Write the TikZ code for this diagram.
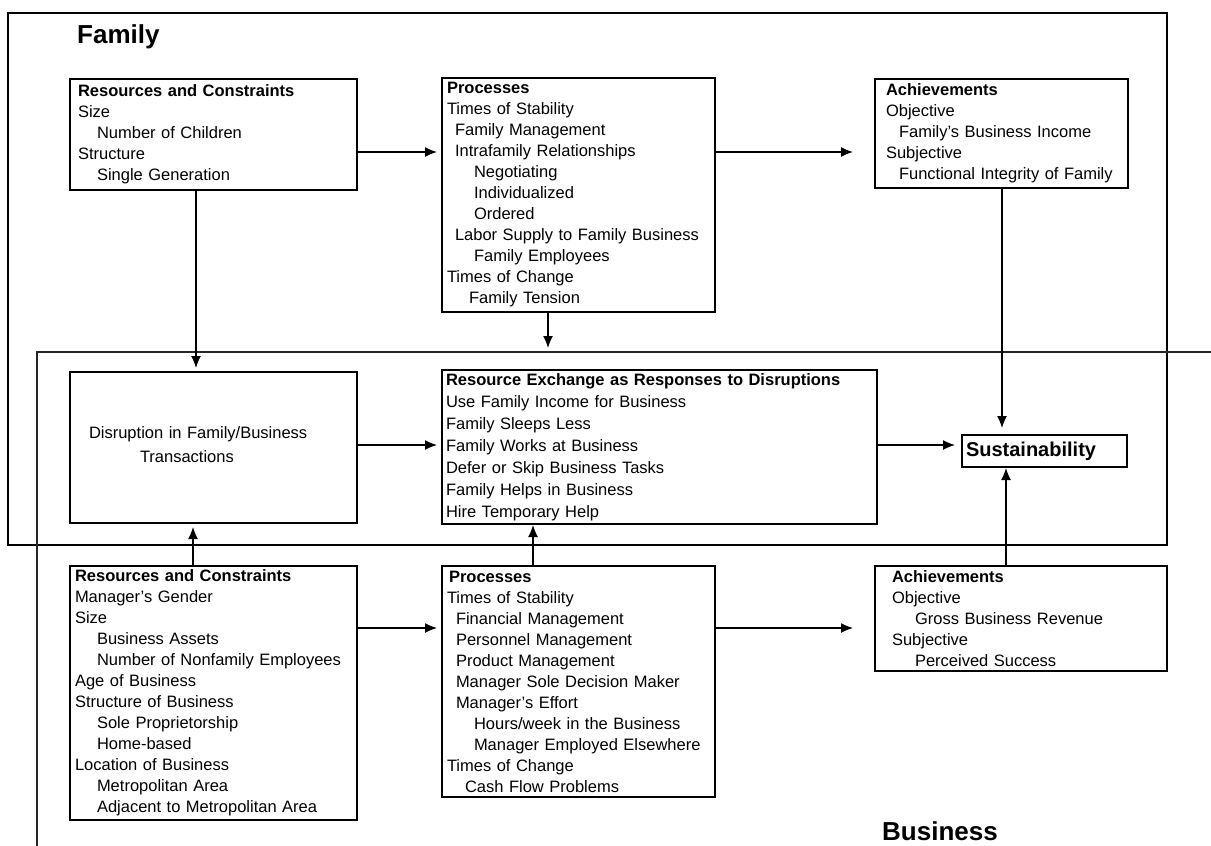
\documentclass[tikz,border=0pt]{standalone}
\usepackage{fontspec}
\setmainfont{Liberation Sans}
\usetikzlibrary{arrows.meta}
\tikzset{
 box/.style={draw, line width=1.3pt, rectangle, anchor=north west, align=left,
   inner ysep=0pt, outer sep=0pt, font=\fontsize{16.5}{21}\selectfont},
 arr/.style={line width=1.3pt, -{Latex[length=12pt,width=10pt]}},
 frameline/.style={line width=1.4pt},
 grouptitle/.style={font=\bfseries\fontsize{26}{30}\selectfont, anchor=base west, inner sep=0pt}
}
\newcommand{\ind}[1]{\hspace*{#1pt}}
\begin{document}
\begin{tikzpicture}[x=1pt,y=-1pt]
\useasboundingbox (0,0) rectangle (1211,846);
% frames
\draw[frameline] (8,13) rectangle (1167,545);
\draw[frameline, black!85] (37,846) -- (37,352) -- (1211,352);
\node[grouptitle] (famlabel) at (77,43) {Family};
\node[grouptitle] (buslabel) at (882,840) {Business};
% family boxes
\node[box, inner xsep=8pt, text width=271pt, minimum height=111pt] (famrc) at (70,79)
 {\textbf{Resources and Constraints}\\ Size\\ \ind{19}Number of Children\\ Structure\\ \ind{19}Single Generation};
\node[box, inner xsep=5pt, text width=263pt, minimum height=234pt] (famproc) at (442,78)
 {\textbf{Processes}\\ Times of Stability\\ \ind{8}Family Management\\ \ind{8}Intrafamily Relationships\\
  \ind{27}Negotiating\\ \ind{27}Individualized\\ \ind{27}Ordered\\ \ind{8}Labor Supply to Family Business\\
  \ind{27}Family Employees\\ Times of Change\\ \ind{22}Family Tension};
\node[box, inner xsep=11pt, text width=231pt, minimum height=109pt] (famach) at (875,79)
 {\textbf{Achievements}\\ Objective\\ \ind{13}Family's Business Income\\ Subjective\\ \ind{13}Functional Integrity of Family};
% middle
\node[box, inner xsep=19pt, text width=249pt, minimum height=151pt, font=\fontsize{16.5}{24}\selectfont] (disr) at (70,372)
 {Disruption in Family/Business\\ \ind{51}Transactions\\[-25pt]\strut};
\node[box, inner xsep=4pt, text width=427pt, minimum height=154pt, font=\fontsize{16.5}{22}\selectfont] (rex) at (442,370)
 {\textbf{Resource Exchange as Responses to Disruptions}\\ Use Family Income for Business\\ Family Sleeps Less\\
  Family Works at Business\\ Defer or Skip Business Tasks\\ Family Helps in Business\\ Hire Temporary Help};
\node[box, inner xsep=4pt, text width=157pt, minimum height=32pt, font=\bfseries\fontsize{20}{24}\selectfont] (sust) at (962,435)
 {Sustainability};
% business boxes
\node[box, inner xsep=5pt, text width=277pt, minimum height=254pt] (busrc) at (70,566)
 {\textbf{Resources and Constraints}\\ Manager's Gender\\ Size\\ \ind{22}Business Assets\\ \ind{22}Number of Nonfamily Employees\\
  Age of Business\\ Structure of Business\\ \ind{22}Sole Proprietorship\\ \ind{22}Home-based\\ Location of Business\\
  \ind{22}Metropolitan Area\\ \ind{22}Adjacent to Metropolitan Area};
\node[box, inner xsep=5pt, text width=263pt, minimum height=231pt] (busproc) at (442,566)
 {\ind{2}\textbf{Processes}\\ Times of Stability\\ \ind{9}Financial Management\\ \ind{9}Personnel Management\\
  \ind{9}Product Management\\ \ind{9}Manager Sole Decision Maker\\ \ind{9}Manager's Effort\\
  \ind{27}Hours/week in the Business\\ \ind{27}Manager Employed Elsewhere\\ Times of Change\\ \ind{18}Cash Flow Problems};
\node[box, inner xsep=17pt, text width=258pt, minimum height=105pt] (busach) at (875,566)
 {\textbf{Achievements}\\ Objective\\ \ind{23}Gross Business Revenue\\ Subjective\\ \ind{23}Perceived Success};
% helper coordinates
\coordinate (ya) at (0,152);
\coordinate (yb) at (0,445);
\coordinate (yc) at (0,628);
\coordinate (xa) at (196,0);
\coordinate (xb) at (1002,0);
\coordinate (xc) at (193,0);
\coordinate (xd) at (533,0);
\coordinate (xe) at (1006,0);
\coordinate (fpend) at (548,348);
% connectors
\draw[arr, shorten >=5pt] (famrc.east |- ya) -- (famproc.west |- ya);
\draw[arr, shorten >=22pt] (famproc.east |- ya) -- (famach.west |- ya);
\draw[arr, shorten >=4pt] (famrc.south -| xa) -- (disr.north -| xa);
\draw[arr] (famproc.south -| fpend) -- (fpend);
\draw[arr, shorten >=7pt] (famach.south -| xb) -- (sust.north -| xb);
\draw[arr, shorten >=5pt] (disr.east |- yb) -- (rex.west |- yb);
\draw[arr, shorten >=7pt] (rex.east |- yb) -- (sust.west |- yb);
\draw[arr, shorten >=4pt] (busrc.north -| xc) -- (disr.south -| xc);
\draw[arr, shorten >=1pt] (busproc.north -| xd) -- (rex.south -| xd);
\draw[arr, shorten >=1pt] (busach.north -| xe) -- (sust.south -| xe);
\draw[arr, shorten >=5pt] (busrc.east |- yc) -- (busproc.west |- yc);
\draw[arr, shorten >=22pt] (busproc.east |- yc) -- (busach.west |- yc);
\end{tikzpicture}
\end{document}
